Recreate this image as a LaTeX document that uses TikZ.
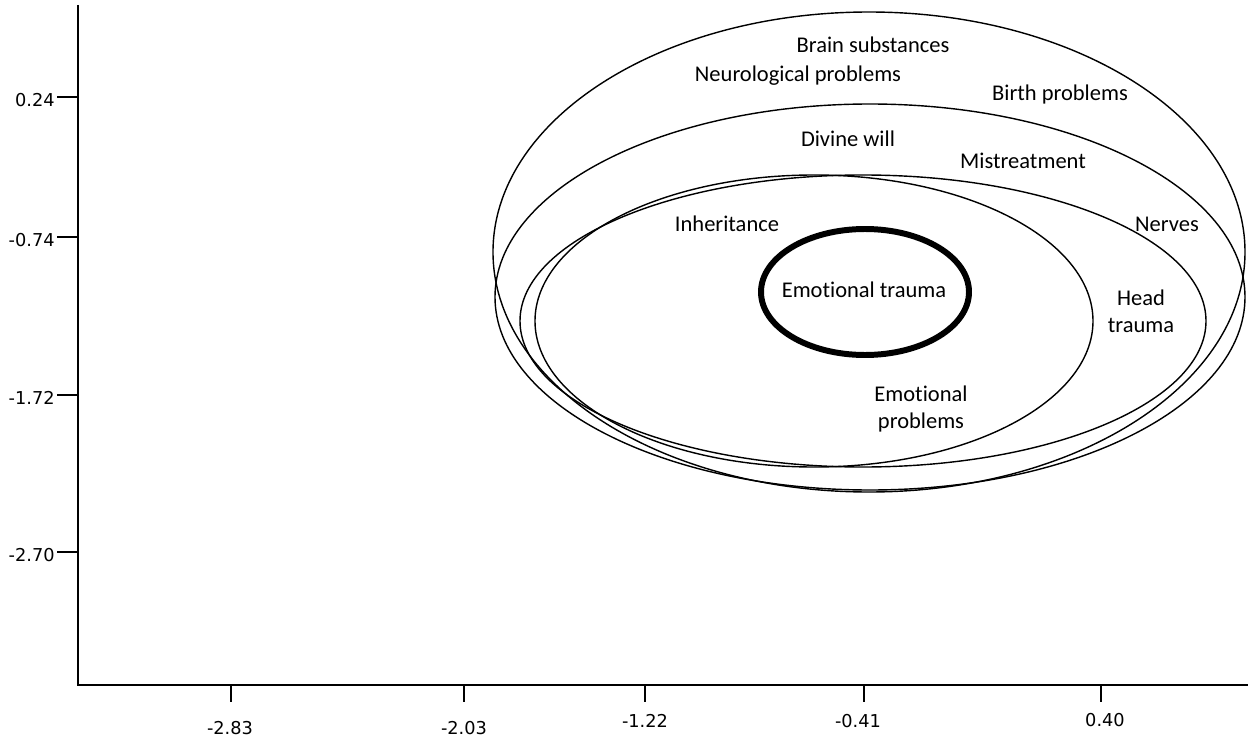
\documentclass[tikz,border=0pt]{standalone}
\usepackage{fontspec}
\setmainfont{Carlito}[Ligatures=NoCommon]
\newfontfamily\axisfont{DejaVu Sans}
\usepackage{tikz}

\begin{document}
\begin{tikzpicture}[text=black,
  label text/.style={font=\fontsize{12.8}{15.4}\selectfont, align=center,
    inner sep=0pt},
  tick text/.style={font=\axisfont\fontsize{10.1}{12}\selectfont, inner sep=0pt},
  ring/.style={draw=black, line width=0.8pt}]
\useasboundingbox (0,0) rectangle (25.16,14.88);

% axes
\draw [line width=1.1pt] (1.56,14.78) -- (1.56,1.18) -- (24.96,1.18);

% y ticks
\draw [line width=0.8pt] (1.14,12.94) -- (1.56,12.94);
\draw [line width=0.8pt] (1.14,10.14) -- (1.56,10.14);
\draw [line width=0.8pt] (1.14,6.98) -- (1.56,6.98);
\draw [line width=0.8pt] (1.14,3.84) -- (1.56,3.84);
\path (1.10,12.88) node [tick text, anchor=east] (ytick1) {0.24};
\path (1.10,10.08) node [tick text, anchor=east] (ytick2) {-0.74};
\path (1.10,6.92) node [tick text, anchor=east] (ytick3) {-1.72};
\path (1.10,3.78) node [tick text, anchor=east] (ytick4) {-2.70};

% x ticks
\draw [line width=0.8pt] (4.62,1.18) -- (4.62,0.84);
\draw [line width=0.8pt] (9.28,1.18) -- (9.28,0.84);
\draw [line width=0.8pt] (12.90,1.18) -- (12.90,0.84);
\draw [line width=0.8pt] (17.28,1.18) -- (17.28,0.84);
\draw [line width=0.8pt] (22.02,1.18) -- (22.02,0.84);
\path (4.60,0.32) node [tick text] (xtick1) {-2.83};
\path (9.28,0.32) node [tick text] (xtick2) {-2.03};
\path (12.90,0.46) node [tick text] (xtick3) {-1.22};
\path (17.16,0.46) node [tick text] (xtick4) {-0.41};
\path (22.10,0.48) node [tick text] (xtick5) {0.40};

% nested ellipses
\draw [ring] (17.38,9.84) ellipse (7.52 and 4.80);
\draw [ring] (17.40,8.94) ellipse (7.50 and 3.86);
\draw [ring] (17.26,8.46) ellipse (6.86 and 2.92);
\draw [ring] (16.28,8.46) ellipse (5.58 and 2.92);
\draw [line width=3.4pt] (17.30,9.04) ellipse (2.08 and 1.26);

% labels
\path (17.46,13.98) node [label text] (brain) {Brain substances};
\path (15.96,13.36) node [label text] (neuro) {Neurological problems};
\path (21.20,12.98) node [label text] (birth) {Birth problems};
\path (16.96,12.10) node [label text] (divine) {Divine will};
\path (20.46,11.66) node [label text] (mistreat) {Mistreatment};
\path (14.54,10.40) node [label text] (inherit) {Inheritance};
\path (23.34,10.40) node [label text] (nerves) {Nerves};
\path (17.28,9.08) node [label text] (emotrauma) {Emotional trauma};
\path (22.82,8.66) node [label text] (headtrauma) {Head\\trauma};
\path (18.42,6.70) node [label text] (emoprob) {Emotional\\problems};

\end{tikzpicture}
\end{document}
